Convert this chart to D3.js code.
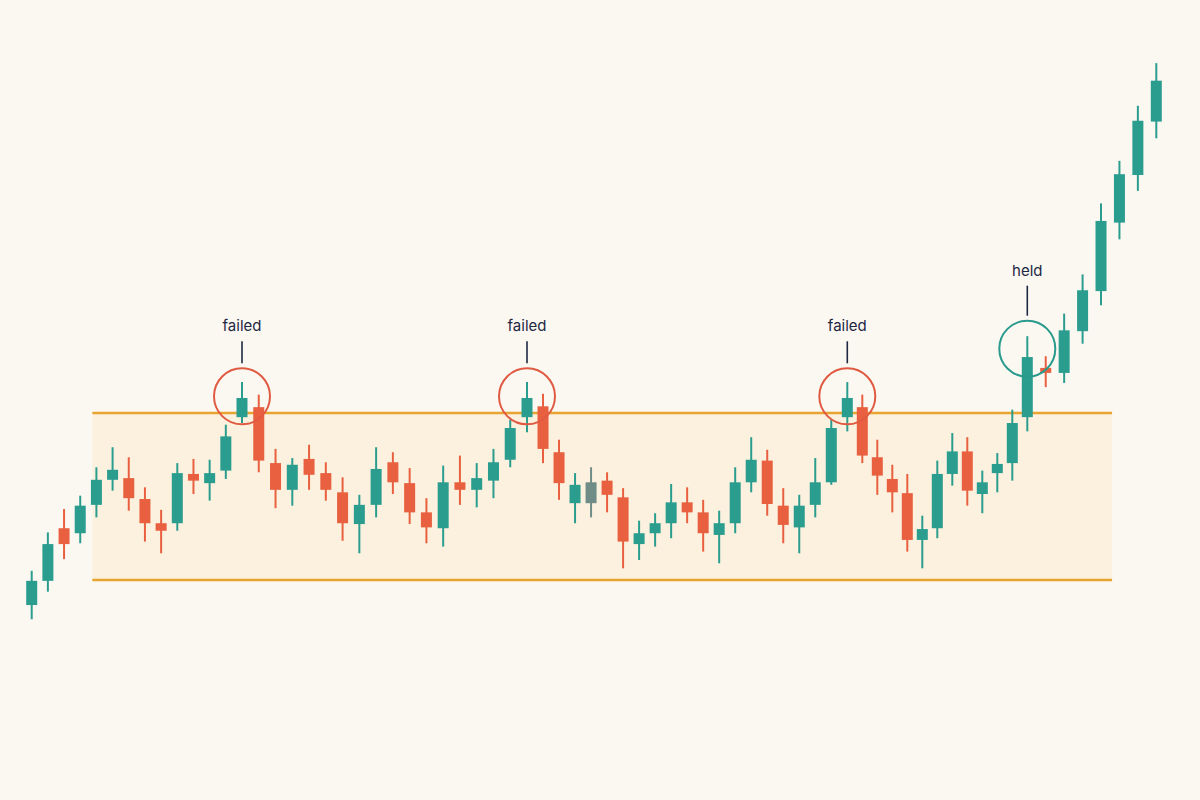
<!DOCTYPE html>
<html>
<head>
<meta charset="utf-8">
<script src="https://cdn.jsdelivr.net/npm/d3@7"></script>
<style>
  html, body { margin: 0; padding: 0; background: #fbf8f2; }
  svg { display: block; }
</style>
</head>
<body>
<svg id="chart" width="1200" height="800"></svg>
<script>
// ---- data (price units) ----
const opens  = [97.0, 99.9,106.2,105.6,109.0,112.0,112.2,109.7,106.8,106.8,112.7,111.6,113.1,119.5,120.7,114.0,110.8,114.5,112.8,110.5,
                106.7,109.0,114.1,111.6,108.1,106.2,111.7,110.8,111.9,114.4,119.5,120.8,115.3,109.2,109.2,111.9,109.9,104.3,105.6,106.8,
                109.3,108.1,105.4,106.8,111.7,114.3,108.9,106.3,109.0,111.7,119.5,120.7,114.7,112.1,110.4,104.8,106.2,112.7,115.4,110.3,
                112.8,114.0,119.5,125.4,124.8,129.8,134.6,142.8,148.5,154.9];
const closes = [99.9,104.3,104.3,108.9,112.0,113.2,109.8,106.8,105.9,112.8,111.9,112.8,117.2,121.8,114.3,110.8,113.8,112.6,110.8,106.8,
                109.0,113.3,111.7,108.1,106.3,111.7,110.8,112.2,114.1,118.2,121.8,115.7,111.6,111.4,111.7,110.2,104.6,105.6,106.8,109.3,
                108.1,105.6,106.8,111.7,114.4,109.1,106.6,108.9,111.7,118.2,121.8,114.9,112.5,110.5,104.8,106.1,112.7,115.4,110.7,111.7,
                113.9,118.8,126.7,124.8,129.9,134.7,143.0,148.6,155.0,159.8];
const highs  = [101.1,105.7,108.5,110.1,113.5,115.9,114.7,111.1,108.4,114.0,114.5,114.4,118.6,123.7,122.2,115.7,114.6,116.2,114.1,112.3,
                110.2,115.9,115.3,113.4,109.8,113.7,114.9,114.0,115.7,119.2,123.7,122.3,116.8,112.8,113.5,112.9,111.0,107.1,108.0,111.5,
                111.1,109.6,108.3,113.5,117.1,115.6,111.0,110.2,114.6,119.2,123.7,122.2,116.8,113.8,112.7,107.7,114.3,117.6,117.1,113.1,
                115.2,120.4,129.2,126.8,131.9,136.6,145.1,150.2,156.8,161.9];
const lows   = [95.3, 98.6,102.5,104.4,107.5,110.7,108.3,104.6,103.2,105.9,110.3,109.5,112.1,118.8,112.9,108.6,108.9,110.8,109.5,104.7,
                103.2,107.5,110.3,106.7,104.4,104.0,109.0,108.7,109.8,113.5,117.7,114.0,109.6,106.8,107.5,108.1,101.4,102.4,104.0,105.0,
                106.8,103.4,102.0,105.6,110.5,107.7,104.4,103.2,107.5,111.4,117.8,114.0,110.2,108.1,103.4,101.4,105.0,111.3,108.9,108.0,
                110.5,111.9,117.8,123.1,123.6,128.3,132.9,140.8,146.6,152.9];
// candle 34 appears neutral/grey in the reference
const neutralIdx = [34];

// range zone
const support = 100;
const resistance = 120;
const zoneFromIdx = 3.75;
const zoneToIdx = 66.6;

// annotations
const annoIdx    = [13, 30, 50, 62];
const annoLabels = ["failed", "failed", "failed", "held"];
const annoKind   = ["fail", "fail", "fail", "hold"];
const annoPrice  = [122.0, 122.0, 122.0, 127.7];

// ---- rendering ----
const svg = d3.select("#chart");
const W = 1200, H = 800;
const colors = { up: "#2a9d8f", down: "#e8603f", neutral: "#6f8c86",
                 zoneLine: "#e8a42e", zoneFill: "#fcf1de", text: "#1e2842",
                 failCircle: "#e05a42", holdCircle: "#2a9a8c", bg: "#fbf8f2" };

svg.append("rect").attr("width", W).attr("height", H).attr("fill", colors.bg);

const n = opens.length;
// piecewise time axis: sessions are unevenly spaced in the reference
const x = d3.scaleLinear()
  .domain([0, 13, 30, 50, 62, n - 1])
  .range([31.7, 242, 527, 847.3, 1027.3, 1156.3]);
const y = d3.scaleLinear().domain([support, resistance]).range([580, 413]);

// zone
const zx0 = x(zoneFromIdx), zx1 = x(zoneToIdx);
svg.append("rect")
  .attr("x", zx0).attr("y", y(resistance))
  .attr("width", zx1 - zx0).attr("height", y(support) - y(resistance))
  .attr("fill", colors.zoneFill);
[support, resistance].forEach(v => {
  svg.append("line")
    .attr("x1", zx0).attr("x2", zx1)
    .attr("y1", y(v)).attr("y2", y(v))
    .attr("stroke", colors.zoneLine).attr("stroke-width", 2.4);
});

const data = d3.range(n).map(i => ({
  i, o: opens[i], c: closes[i], h: highs[i], l: lows[i],
  col: neutralIdx.includes(i) ? colors.neutral : (closes[i] >= opens[i] ? colors.up : colors.down)
}));

const bw = 11;
const g = svg.append("g");
const candles = g.selectAll("g.c").data(data).join("g").attr("class", "c");
candles.append("line")
  .attr("x1", d => x(d.i)).attr("x2", d => x(d.i))
  .attr("y1", d => y(d.h)).attr("y2", d => y(d.l))
  .attr("stroke", d => d.col).attr("stroke-width", 2);
candles.append("rect")
  .attr("x", d => x(d.i) - bw / 2)
  .attr("y", d => y(Math.max(d.o, d.c)))
  .attr("width", bw)
  .attr("height", d => Math.max(2, Math.abs(y(d.o) - y(d.c))))
  .attr("fill", d => d.col);

// annotations
const r = 28;
annoIdx.forEach((idx, k) => {
  const cx = x(idx), cy = y(annoPrice[k]);
  const kind = annoKind[k];
  svg.append("circle")
    .attr("cx", cx).attr("cy", cy).attr("r", r)
    .attr("fill", "none")
    .attr("stroke", kind === "fail" ? colors.failCircle : colors.holdCircle)
    .attr("stroke-width", 2);
  const stem = kind === "fail" ? 22 : 30;
  const top = cy - r - 5;
  svg.append("line")
    .attr("x1", cx).attr("x2", cx)
    .attr("y1", top).attr("y2", top - stem)
    .attr("stroke", colors.text).attr("stroke-width", 1.6);
  svg.append("text")
    .attr("x", cx).attr("y", top - stem - 10)
    .attr("text-anchor", "middle")
    .attr("font-family", "Inter, 'Open Sans', sans-serif")
    .attr("font-size", 15)
    .attr("fill", colors.text)
    .text(annoLabels[k]);
});
</script>
</body>
</html>
